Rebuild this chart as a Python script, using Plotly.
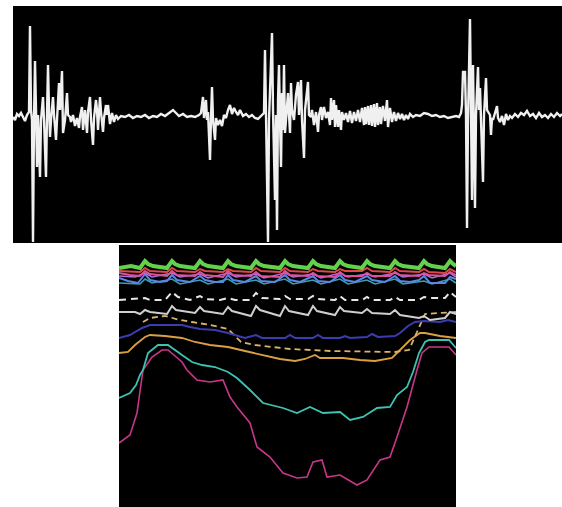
import plotly.graph_objects as go

# ---------------- Top panel: waveform (sample position, level) ----------------
wave_x = [13,15,17,19,21,23,25,27,29,
          30,31,32,33,34,35,36,37,38,40,41,43,44,46,47,48,49,50,51,53,54,56,57,59,60,62,63,65,67,68,70,71,73,75,77,79,80,82,83,85,87,88,90,91,93,94,96,97,98,99,100,101,103,104,106,107,108,110,112,114,116,118,
          121,125,129,133,137,141,145,149,153,157,161,165,169,173,176,179,183,187,191,195,199,201,
          203,204,206,207,208,210,211,212,213,215,216,218,220,222,224,226,228,230,232,234,236,238,240,243,246,249,252,255,258,260,262,
          264,265,266,268,269,272,273,275,276,277,278,279,280,281,282,283,284,285,286,288,289,290,291,292,294,296,298,299,301,302,304,305,308,309,311,312,314,316,318,319,321,322,324,326,328,330,331,332,334,335,336,338,339,341,342,344,346,348,350,352,354,356,358,360,362,364,365,366,368,369,371,372,374,375,377,378,380,381,383,385,387,388,390,392,394,396,398,400,402,404,406,408,410,413,416,420,424,428,432,436,440,444,448,452,456,459,461,
          462,463,465,466,467,468,470,471,472,473,474,475,476,478,479,480,481,483,484,486,487,488,490,491,492,493,495,497,498,500,502,504,506,508,510,512,515,518,521,524,527,530,533,536,539,542,545,548,551,554,557,560,562]
wave_y = [117,120,114,116,113,118,121,115,112,
          26,110,120,242,120,61,110,167,115,177,120,97,120,177,115,65,110,137,120,97,115,140,120,83,110,71,133,120,93,115,117,122,115,126,118,128,117,107,130,110,133,112,97,120,145,118,100,110,130,115,97,112,132,118,105,115,105,124,113,122,115,119,
          116,117,115,118,116,117,115,118,116,117,114,116,113,110,113,116,114,117,116,117,115,113,
          97,118,100,120,112,160,118,87,120,140,118,125,120,126,115,118,110,105,114,108,112,115,110,116,114,117,115,118,119,117,115,
          113,50,115,242,120,33,110,200,115,230,100,65,120,167,93,130,65,133,120,93,115,133,83,110,120,95,82,115,80,120,158,110,82,115,117,110,125,112,132,115,107,120,107,118,112,125,98,120,100,127,105,127,110,130,112,120,113,122,111,123,112,121,110,122,108,125,107,124,106,125,105,126,104,127,103,125,107,124,106,121,100,127,108,122,112,121,113,119,114,120,115,119,114,117,115,116,113,114,116,115,117,116,118,117,116,117,113,
          105,72,72,115,228,120,19,110,200,65,120,208,115,67,110,88,120,182,115,78,110,112,115,135,118,120,112,106,118,122,116,125,114,120,116,118,114,117,113,115,111,116,114,118,113,117,115,118,114,117,113,116,114]

# ---------------- Bottom panel: traces (frame, depth) ----------------
green_x = [119,125,131,140,145,148,153,167,172,175,180,195,200,203,208,223,228,231,236,251,256,259,264,280,285,288,293,308,313,316,321,335,340,343,348,362,367,370,375,390,395,398,403,419,424,427,432,445,450,453,456]
green_y = [268,267,266,268,261,264,266,268,261,264,266,268,261,264,266,268,261,264,266,268,261,264,266,268,261,264,266,268,261,264,266,268,261,264,266,268,261,264,266,268,261,264,266,268,261,264,266,268,261,264,266]

red_x = [119,140,145,150,167,172,177,195,200,205,223,228,233,251,256,261,280,285,290,308,313,318,335,340,345,362,367,372,390,395,400,419,424,429,445,450,456]
red_y = [271,272,268,271,272,268,271,272,269,271,272,269,271,272,268,271,272,268,271,272,269,271,272,269,271,271,268,271,272,268,271,272,269,272,273,269,272]

pink_x = [119,130,140,145,150,167,172,177,195,200,205,223,228,233,251,256,261,280,285,290,308,313,318,335,340,345,362,367,372,390,395,400,419,424,429,445,450,456]
pink_y = [273,275,276,271,274,276,271,275,276,272,275,277,271,275,276,272,276,277,271,275,276,273,276,277,272,276,276,273,276,276,272,275,276,273,275,276,272,275]

purple_x = [119,135,145,152,172,180,200,208,228,236,256,264,285,293,313,321,340,348,367,375,395,403,424,432,450,456]
purple_y = [276,277,273,277,273,277,274,278,273,277,274,278,273,277,274,278,273,277,274,277,273,277,274,278,273,277]

blue_x = [119,128,138,145,150,160,167,172,177,190,200,205,215,223,228,233,245,256,261,275,285,290,300,313,318,330,340,345,355,367,372,385,395,400,410,419,424,430,445,450,456]
blue_y = [278,281,283,274,280,282,281,275,280,282,276,280,282,282,275,280,282,276,281,282,275,280,282,276,281,282,275,280,282,276,280,282,276,281,282,280,276,283,283,277,279]

teal_x = [119,140,145,152,172,180,200,208,228,236,256,264,285,293,313,321,340,348,367,375,395,403,424,432,450,456]
teal_y = [283,284,279,283,279,284,280,284,279,284,280,284,279,284,280,284,279,284,280,284,279,284,281,284,279,283]

dash_x = [119,135,145,150,165,172,178,190,200,205,220,228,235,250,256,262,280,285,290,308,313,318,335,340,345,362,367,372,390,395,400,419,424,430,445,450,456]
dash_y = [300,299,298,300,300,292,297,300,296,299,300,298,300,300,293,298,299,296,299,299,296,299,300,296,300,300,297,300,300,297,300,300,297,298,298,292,297]

grey_x = [119,135,140,145,150,167,172,176,195,200,204,223,228,232,251,256,260,280,285,289,308,313,317,335,340,344,362,367,372,390,395,400,419,424,430,445,450,456]
grey_y = [312,312,314,310,312,314,306,310,313,307,311,314,307,311,316,306,310,316,306,311,315,306,311,315,307,311,313,309,313,314,310,315,318,316,320,318,312,314]

indigo_x = [119,130,142,150,165,182,190,200,215,228,245,256,262,285,290,295,313,318,323,340,345,350,367,372,378,395,400,408,415,424,440,448,456]
indigo_y = [338,335,328,325,325,325,327,329,330,333,338,335,338,338,335,338,338,335,338,338,336,338,337,334,337,336,333,326,322,321,322,320,322]

orangeA_x = [119,128,135,145,150,165,182,195,210,228,245,261,280,295,305,315,320,343,360,375,392,400,410,420,425,440,456]
orangeA_y = [353,352,345,337,335,336,338,342,345,347,351,355,359,361,359,355,358,358,360,361,358,350,340,333,333,336,338]

orangeB_x = [143,150,165,180,192,210,228,241,255,290,330,370,395,409,418,425,440,456]
orangeB_y = [322,318,316,320,322,325,329,342,345,349,351,352,352,350,330,314,313,312]

cyan_x = [119,130,136,140,143,148,158,168,182,192,202,215,228,237,250,263,283,297,310,323,340,350,363,377,390,397,407,413,419,425,429,449,456]
cyan_y = [398,393,385,375,370,353,345,345,355,362,365,367,372,378,390,403,408,413,407,413,412,420,417,408,407,395,387,372,353,342,340,340,348]

magenta_x = [119,130,137,143,152,162,168,182,187,197,210,223,230,237,250,257,270,283,297,307,313,322,327,340,357,367,380,390,397,407,417,422,429,449,456]
magenta_y = [443,435,413,370,357,350,350,362,370,380,382,380,397,407,423,447,457,473,478,477,462,460,477,475,485,480,460,457,437,407,370,353,347,347,355]

fig = go.Figure()

# top waveform
fig.add_trace(go.Scatter(x=wave_x, y=wave_y, mode="lines", xaxis="x", yaxis="y",
                         line=dict(color="#f0f0f0", width=2.4), hoverinfo="skip"))

bottom = [
    (magenta_x, magenta_y, "#c8368a", 1.6, "solid"),
    (cyan_x, cyan_y, "#3fc2b2", 1.8, "solid"),
    (orangeA_x, orangeA_y, "#dca043", 1.8, "solid"),
    (orangeB_x, orangeB_y, "#d9b36a", 1.8, "6px,4px"),
    (indigo_x, indigo_y, "#3c3cb0", 2, "solid"),
    (grey_x, grey_y, "#cfcfcf", 2, "solid"),
    (dash_x, dash_y, "#e6e6e6", 2, "7px,5px"),
    (teal_x, teal_y, "#3b9fb3", 1.6, "solid"),
    (blue_x, blue_y, "#5b86e6", 2, "solid"),
    (purple_x, purple_y, "#a873d6", 1.6, "solid"),
    (pink_x, pink_y, "#e24f9e", 2, "solid"),
    (red_x, red_y, "#e04848", 2, "solid"),
    (green_x, green_y, "#62d24c", 4, "solid"),
]
for xs, ys, col, w, d in bottom:
    fig.add_trace(go.Scatter(x=xs, y=ys, mode="lines", xaxis="x2", yaxis="y2",
                             line=dict(color=col, width=w, dash=d), hoverinfo="skip"))

ax = dict(visible=False, showgrid=False, zeroline=False, fixedrange=True)
fig.update_layout(
    width=562, height=507,
    margin=dict(l=0, r=0, t=0, b=0),
    paper_bgcolor="white", plot_bgcolor="black",
    showlegend=False,
    xaxis=dict(ax, domain=[13/562, 1.0], range=[13, 562]),
    yaxis=dict(ax, domain=[264/507, 501/507], range=[243, 6]),
    xaxis2=dict(ax, domain=[119/562, 456/562], range=[119, 456], anchor="y2"),
    yaxis2=dict(ax, domain=[0, 262/507], range=[507, 245], anchor="x2"),
)

fig.write_html("out.html", config={"displayModeBar": False},
               post_script="document.body.style.margin='0';document.body.style.overflow='hidden';")
